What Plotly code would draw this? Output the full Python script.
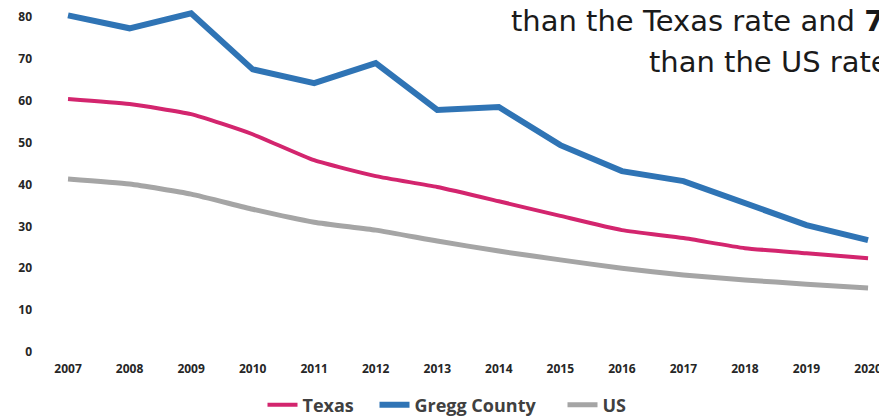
import plotly.graph_objects as go

years = list(range(2007, 2021))
texas = [60.4, 59.2, 56.8, 52.0, 45.8, 42.0, 39.4, 36.0, 32.5, 29.1, 27.2, 24.8, 23.6, 22.4]
gregg = [80.4, 77.3, 80.9, 67.5, 64.2, 69.0, 57.8, 58.5, 49.4, 43.2, 40.8, 35.6, 30.3, 26.7]
us = [41.3, 40.1, 37.7, 34.1, 31.0, 29.1, 26.5, 24.1, 22.0, 20.0, 18.4, 17.2, 16.2, 15.3]
y_ticks = [0, 10, 20, 30, 40, 50, 60, 70, 80]

fig = go.Figure()
fig.add_trace(go.Scatter(x=years, y=texas, name="Texas", mode="lines", legendwidth=67,
                         line=dict(color="#D3256E", width=4, shape="spline", smoothing=0.5)))
fig.add_trace(go.Scatter(x=years, y=gregg, name="Gregg County", mode="lines", legendwidth=143,
                         line=dict(color="#2F74B5", width=6)))
fig.add_trace(go.Scatter(x=years, y=us, name="US", mode="lines", legendwidth=30,
                         line=dict(color="#A5A5A5", width=5, shape="spline", smoothing=0.5)))

tickfont = dict(size=12, family="Open Sans", weight="bold", color="#262626")

# The page body adds an 8px offset; layout computed in figure coordinates.
W, H = 887, 417
L, R, T, B = 37, 8, 0, 65
pw = W - L - R
ph = H - T - B

fig.update_layout(
    width=W, height=H,
    margin=dict(l=L, r=R, t=T, b=B, autoexpand=False),
    paper_bgcolor="white", plot_bgcolor="white",
    font=dict(family="Open Sans", color="#333333"),
    showlegend=True,
    legend=dict(orientation="h", x=442 / W, xanchor="center", xref="container",
                y=20 / H, yanchor="middle", yref="container",
                font=dict(size=18, family="Open Sans", weight="bold", color="#404040"),
                itemwidth=30, tracegroupgap=0),
    xaxis=dict(range=[2006.626, 2020.308], tickvals=years, ticktext=[str(y) for y in years],
               showgrid=False, zeroline=False, showline=False, automargin=False,
               tickfont=tickfont),
    yaxis=dict(range=[-1.91, 82.15], tickvals=y_ticks, showgrid=False, zeroline=False,
               showline=False, ticklabelstandoff=12, automargin=False,
               tickfont=tickfont),
    annotations=[
        dict(text="than the Texas rate and <b>7</b>", x=(501 - L) / pw, y=(ph - 13) / ph,
             xref="paper", yref="paper", showarrow=False, xanchor="left", yanchor="middle",
             font=dict(size=29, family="DejaVu Sans", weight=400, color="#1a1a1a")),
        dict(text="than the US rate", x=(639 - L) / pw, y=(ph - 54) / ph,
             xref="paper", yref="paper", showarrow=False, xanchor="left", yanchor="middle",
             font=dict(size=29, family="DejaVu Sans", weight=400, color="#1a1a1a")),
    ],
)

fig.write_html("out.html")
